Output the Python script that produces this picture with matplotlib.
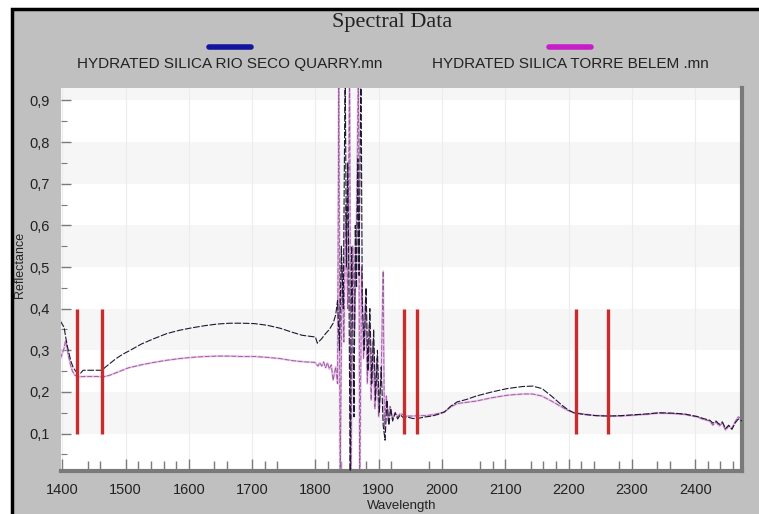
import matplotlib.pyplot as plt
import numpy as np
from matplotlib.lines import Line2D
from matplotlib.patches import Rectangle
from matplotlib.ticker import FuncFormatter, MultipleLocator

# espectro 1 - HYDRATED SILICA RIO SECO QUARRY
wl_rio = [1397, 1403, 1405, 1408, 1411, 1414, 1417, 1421, 1425, 1429, 1433, 1463, 1467,
          1475, 1485, 1495, 1505, 1525, 1545, 1565, 1585, 1605, 1625, 1645, 1665, 1685,
          1704, 1724, 1744, 1764, 1779, 1794, 1800, 1803, 1810, 1816, 1822, 1828, 1832,
          1835, 1838, 1841, 1844, 1847, 1849, 1851, 1853, 1855, 1857, 1859, 1861, 1863,
          1865, 1867, 1869, 1872, 1874, 1877, 1880, 1883, 1886, 1889, 1892, 1895, 1898,
          1901, 1904, 1907, 1910, 1913, 1916, 1919, 1922, 1926, 1930, 1934, 1939, 1944,
          1954, 1964, 1974, 1984, 1994, 2004, 2014, 2024, 2039, 2054, 2079, 2103, 2128,
          2143, 2158, 2173, 2188, 2198, 2208, 2223, 2243, 2263, 2283, 2303, 2323, 2343,
          2363, 2383, 2403, 2413, 2423, 2428, 2433, 2438, 2443, 2448, 2453, 2458, 2463,
          2468, 2474]
refl_rio = [0.37, 0.355, 0.335, 0.31, 0.29, 0.272, 0.26, 0.25, 0.245, 0.245, 0.252, 0.252, 0.258,
            0.268, 0.28, 0.29, 0.298, 0.315, 0.328, 0.34, 0.348, 0.354, 0.359, 0.363, 0.365, 0.365,
            0.364, 0.36, 0.353, 0.343, 0.336, 0.333, 0.332, 0.317, 0.328, 0.34, 0.35, 0.365, 0.385,
            0.42, 0.30, 0.55, 0.40, 1.00, 0.50, 0.75, 0.45, -0.05, 0.55, 0.38, 0.14, 0.60,
            0.45, 0.76, 0.48, 1.00, 0.42, 0.30, 0.45, 0.25, 0.40, 0.22, 0.35, 0.18, 0.30,
            0.15, 0.26, 0.12, 0.084, 0.18, 0.12, 0.16, 0.13, 0.15, 0.135, 0.145, 0.138, 0.14,
            0.136, 0.137, 0.14, 0.142, 0.146, 0.152, 0.166, 0.176, 0.182, 0.19, 0.20, 0.208, 0.213,
            0.214, 0.208, 0.19, 0.17, 0.158, 0.15, 0.146, 0.143, 0.142, 0.143, 0.145, 0.147, 0.15,
            0.149, 0.147, 0.141, 0.136, 0.132, 0.125, 0.13, 0.122, 0.128, 0.112, 0.12, 0.11, 0.125,
            0.135, 0.13]

# espectro 2 - HYDRATED SILICA TORRE BELEM
wl_torre = [1397, 1403, 1405, 1407, 1410, 1413, 1416, 1420, 1425, 1435, 1445, 1455, 1465,
            1475, 1485, 1495, 1505, 1525, 1545, 1565, 1585, 1605, 1625, 1645, 1665, 1685,
            1704, 1724, 1744, 1764, 1784, 1799, 1804, 1807, 1810, 1813, 1816, 1819, 1822,
            1825, 1828, 1832, 1835, 1837, 1839, 1842, 1845, 1848, 1851, 1854, 1856, 1859,
            1862, 1865, 1868, 1870, 1873, 1876, 1879, 1882, 1885, 1888, 1891, 1894, 1897,
            1900, 1904, 1907, 1909, 1912, 1915, 1918, 1922, 1926, 1930, 1934, 1944, 1954,
            1964, 1974, 1984, 1994, 2004, 2014, 2024, 2039, 2054, 2079, 2103, 2128, 2143,
            2158, 2173, 2188, 2198, 2208, 2223, 2243, 2263, 2283, 2303, 2323, 2343, 2363,
            2383, 2403, 2413, 2423, 2428, 2433, 2438, 2443, 2448, 2453, 2458, 2463, 2468,
            2474]
refl_torre = [0.28, 0.305, 0.322, 0.31, 0.285, 0.265, 0.25, 0.24, 0.236, 0.237, 0.237, 0.237, 0.236,
              0.24, 0.246, 0.252, 0.258, 0.265, 0.271, 0.276, 0.28, 0.283, 0.285, 0.286, 0.286, 0.285,
              0.285, 0.283, 0.28, 0.275, 0.272, 0.271, 0.262, 0.27, 0.262, 0.272, 0.258, 0.27, 0.255,
              0.265, 0.228, 0.26, 0.22, 1.00, -0.05, 0.50, 0.32, 0.65, 0.40, 1.00, -0.05, 0.55,
              0.35, 0.62, 1.00, -0.05, 0.50, 0.28, 0.42, 0.22, 0.36, 0.18, 0.32, 0.16, 0.28,
              0.14, 0.25, 0.49, 0.11, 0.19, 0.13, 0.165, 0.135, 0.15, 0.14, 0.148, 0.142, 0.142,
              0.143, 0.143, 0.145, 0.148, 0.152, 0.164, 0.172, 0.175, 0.178, 0.186, 0.192, 0.195, 0.195,
              0.19, 0.178, 0.165, 0.156, 0.15, 0.147, 0.143, 0.142, 0.142, 0.144, 0.146, 0.149, 0.148,
              0.146, 0.14, 0.134, 0.13, 0.12, 0.128, 0.118, 0.125, 0.108, 0.118, 0.112, 0.128, 0.14,
              0.135]

# marcas de bandas de absorcion
bandas = [1424, 1462, 1940, 1961, 2211, 2263]

etiquetas = ['HYDRATED SILICA RIO SECO QUARRY.mn', 'HYDRATED SILICA TORRE BELEM .mn']
colores_leyenda = ['#1414a0', '#c81ec8']

# marcas menores del eje x (irregulares en el original)
menores_x = [1440, 1460, 1520, 1540, 1560, 1580, 1640, 1660, 1720, 1740, 1820, 1840, 1880,
             1920, 1980, 2060, 2080, 2140, 2160, 2180, 2220, 2240, 2280, 2340, 2360, 2420,
             2440, 2460]

plt.rcParams['font.family'] = ['Liberation Sans', 'DejaVu Sans']

W, H = 759, 514
fig = plt.figure(figsize=(W / 100, H / 100), dpi=100, facecolor='white')
# panel gris con borde negro arriba e izquierda
fig.add_artist(Rectangle((12 / W, -0.02), 1.0, (H - 9) / H + 0.02, transform=fig.transFigure,
                         facecolor='#c0c0c0', edgecolor='black', lw=2.5, zorder=-10))

ax = fig.add_axes([61 / W, 43 / H, 681 / W, 383 / H])
ax.set_facecolor('white')
ax.set_xlim(1398, 2474)
ax.set_ylim(0.01, 0.93)

# bandas horizontales claras y rejilla vertical tenue
for y0 in [0.1, 0.3, 0.5, 0.7, 0.9]:
    ax.axhspan(y0, y0 + 0.1, color='#f6f6f6', lw=0, zorder=0)
for xg in range(1400, 2500, 100):
    ax.axvline(xg, color='#ececec', lw=0.8, zorder=0.5)

ax.plot(wl_torre, refl_torre, color='#eebdf2', lw=1.5, zorder=2)
ax.plot(wl_torre, refl_torre, color='#8c5c8c', lw=0.6, ls=(0, (6, 2)), zorder=2.5)
ax.plot(wl_rio, refl_rio, color='#1c1830', lw=0.8, ls=(0, (6, 1.5)), zorder=3)

ax.vlines(bandas, 0.1, 0.4, color='#c82c2c', lw=2.4, zorder=4)

for s in ['top', 'left']:
    ax.spines[s].set_visible(False)
for s in ['bottom', 'right']:
    ax.spines[s].set_color('#7a7a7a')
    ax.spines[s].set_linewidth(3)

ax.xaxis.set_major_locator(MultipleLocator(100))
ax.set_xticks(menores_x, minor=True)
ax.set_yticks(np.arange(0.1, 0.95, 0.1))
ax.yaxis.set_minor_locator(MultipleLocator(0.05))
ax.yaxis.set_major_formatter(FuncFormatter(lambda v, p: f'{v:.1f}'.replace('.', ',')))
ax.tick_params(axis='both', which='both', direction='in', colors='#7a7a7a', labelcolor='#222222',
               labelsize=10.5)
ax.tick_params(axis='x', which='major', length=9, width=1, pad=9)
ax.tick_params(axis='x', which='minor', length=7, width=1)
ax.tick_params(axis='y', which='major', length=7, width=1, pad=8)
ax.tick_params(axis='y', which='minor', length=4, width=0.8)
ax.tick_params(right=False, top=False, which='both')

fig.text(20 / W, 1 - 265 / H, 'Reflectance', rotation=90, ha='center', va='center', fontsize=9,
         color='#222222')
fig.text(402 / W, 1 - 506 / H, 'Wavelength', ha='center', va='center', fontsize=9.5,
         color='#222222')
fig.text(392 / W, 1 - 22 / H, 'Spectral Data', ha='center', va='center', fontsize=16,
         family='Liberation Serif', color='#222222')

# leyenda: barra de color encima de cada etiqueta
for xc, txt, col in zip([230, 570], etiquetas, colores_leyenda):
    fig.add_artist(Line2D([(xc - 21) / W, (xc + 21) / W], [1 - 47 / H, 1 - 47 / H],
                          transform=fig.transFigure, color=col, lw=4, solid_capstyle='round'))
    fig.text(xc / W, 1 - 64 / H, txt, ha='center', va='center', fontsize=11, color='#222222')

fig.savefig('out.png', dpi=100, facecolor=fig.get_facecolor())
